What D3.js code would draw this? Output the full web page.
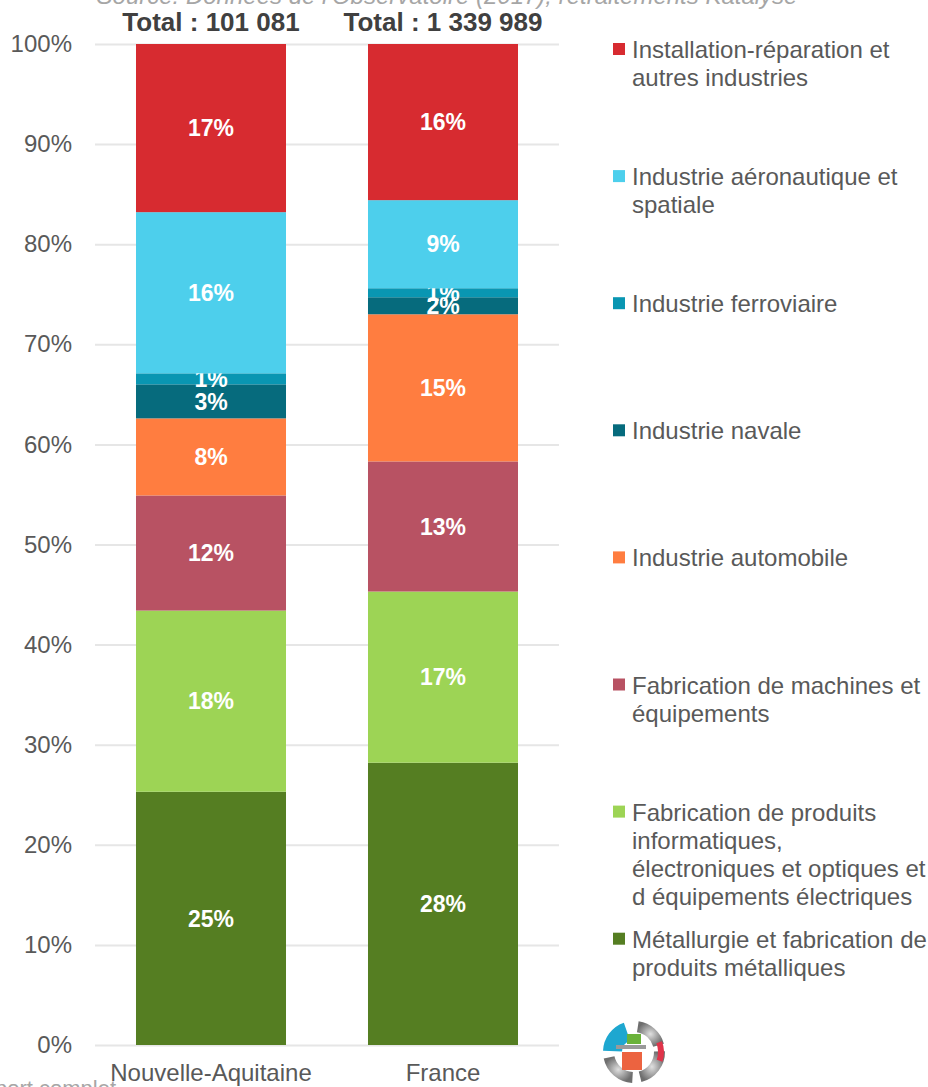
<!DOCTYPE html>
<html>
<head>
<meta charset="utf-8">
<script src="https://cdn.jsdelivr.net/npm/d3@7"></script>
<style>
  body { margin: 0; background: #fff; }
  svg { display: block; font-family: "Liberation Sans", Arial, sans-serif; }
</style>
</head>
<body>
<div id="chart"></div>
<script>
// données (en %), de bas en haut de la pile
const categories = ["Nouvelle-Aquitaine", "France"];
const totals = ["Total : 101 081", "Total : 1 339 989"];
const sectors = [
    "Métallurgie et fabrication de produits métalliques",
    "Fabrication de produits informatiques, électroniques et optiques et d équipements électriques",
    "Fabrication de machines et équipements",
    "Industrie automobile",
    "Industrie navale",
    "Industrie ferroviaire",
    "Industrie aéronautique et spatiale",
    "Installation-réparation et autres industries"
];
const legendLines = [
    ["Métallurgie et fabrication de", "produits métalliques"],
    ["Fabrication de produits", "informatiques,", "électroniques et optiques et", "d équipements électriques"],
    ["Fabrication de machines et", "équipements"],
    ["Industrie automobile"],
    ["Industrie navale"],
    ["Industrie ferroviaire"],
    ["Industrie aéronautique et", "spatiale"],
    ["Installation-réparation et", "autres industries"]
];
const naValues = [25.3, 18.1, 11.5, 7.7, 3.4, 1.1, 16.1, 16.8];
const frValues = [28.2, 17.1, 13.0, 14.7, 1.7, 0.9, 8.8, 15.6];
const colors = ["#557e22", "#9dd455", "#b85263", "#ff7d40", "#066b7d", "#0996b2", "#4dcfec", "#d72b30"];
const yTicks = [0, 10, 20, 30, 40, 50, 60, 70, 80, 90, 100];

const width = 928;
const height = 1087;

const svg = d3.select("#chart")
    .append("svg")
    .attr("width", width)
    .attr("height", height);

const x = d3.scaleBand()
    .domain(categories)
    .range([95, 559])
    .paddingInner(0.3534)
    .paddingOuter(0.1767);

const y = d3.scaleLinear()
    .domain([0, 100])
    .range([1045, 44]);

const color = d3.scaleOrdinal().domain(sectors).range(colors);

// source (coupée en haut)
svg.append("text")
    .attr("x", 447).attr("y", 4)
    .attr("text-anchor", "middle")
    .attr("fill", "#a6a6a6")
    .style("font-size", "24px")
    .style("font-style", "italic")
    .text("Source: Données de l'Observatoire (2017), retraitements Katalyse");

// grille + axe Y
const yAxis = d3.axisLeft(y)
    .tickValues(yTicks)
    .tickSize(-(559 - 95))
    .tickPadding(23)
    .tickFormat(d => d + "%");

svg.append("g")
    .attr("transform", "translate(95,0)")
    .call(yAxis)
    .call(g => g.select(".domain").remove())
    .call(g => g.selectAll("line").attr("stroke", "#e6e6e6").attr("stroke-width", 2))
    .call(g => g.selectAll("text").attr("fill", "#595959").style("font-size", "24px").style("font-family", "Liberation Sans, Arial, sans-serif"));

// pile
const rows = sectors.map((s, i) => ({ sector: s, "Nouvelle-Aquitaine": naValues[i], "France": frValues[i] }));
const byCat = categories.map(c => {
    const o = { cat: c };
    rows.forEach(r => { o[r.sector] = r[c]; });
    return o;
});
const series = d3.stack().keys(sectors)(byCat);

const layer = svg.append("g").selectAll("g")
    .data(series)
    .enter()
    .append("g")
    .attr("fill", d => color(d.key));

layer.selectAll("rect")
    .data(d => d)
    .enter()
    .append("rect")
    .attr("x", d => x(d.data.cat))
    .attr("width", x.bandwidth())
    .attr("y", d => y(d[1]))
    .attr("height", d => y(d[0]) - y(d[1]));

// étiquettes de valeurs
layer.selectAll("text")
    .data(d => d)
    .enter()
    .append("text")
    .attr("x", d => x(d.data.cat) + x.bandwidth() / 2)
    .attr("y", d => (y(d[0]) + y(d[1])) / 2)
    .attr("dy", "0.36em")
    .attr("text-anchor", "middle")
    .attr("fill", "#fff")
    .style("font-size", "23px")
    .style("font-weight", "bold")
    .text(d => Math.round(d[1] - d[0]) + "%");

// totaux
svg.selectAll(".total")
    .data(categories)
    .enter()
    .append("text")
    .attr("class", "total")
    .attr("x", d => x(d) + x.bandwidth() / 2)
    .attr("y", 31)
    .attr("text-anchor", "middle")
    .attr("fill", "#404040")
    .style("font-size", "26px")
    .style("font-weight", "bold")
    .text((d, i) => totals[i]);

// catégories
svg.selectAll(".cat")
    .data(categories)
    .enter()
    .append("text")
    .attr("class", "cat")
    .attr("x", d => x(d) + x.bandwidth() / 2)
    .attr("y", 1081)
    .attr("text-anchor", "middle")
    .attr("fill", "#595959")
    .style("font-size", "24px")
    .text(d => d);

// texte coupé en bas à gauche
svg.append("text")
    .attr("x", 116).attr("y", 1096)
    .attr("text-anchor", "end")
    .attr("fill", "#a6a6a6")
    .style("font-size", "22px")
    .text("Rapport complet");

// légende (ordre inverse)
const legendOrder = d3.range(sectors.length).reverse();
const legend = svg.append("g").selectAll("g")
    .data(legendOrder)
    .enter()
    .append("g")
    .attr("transform", (d, i) => `translate(613,${49 + i * 127.1})`);

legend.append("rect")
    .attr("x", 0).attr("y", -6)
    .attr("width", 12).attr("height", 12)
    .attr("fill", d => colors[d]);

legend.append("text")
    .attr("x", 19)
    .attr("y", 9)
    .attr("fill", "#595959")
    .style("font-size", "24px")
    .selectAll("tspan")
    .data(d => legendLines[d])
    .enter()
    .append("tspan")
    .attr("x", 19)
    .attr("dy", (d, i) => i === 0 ? 0 : 28)
    .text(d => d);

// logo
const logo = svg.append("g").attr("transform", "translate(634,1052)");
const arc = d3.arc();
const gray = logo.append("defs").append("radialGradient").attr("id", "grisLogo");
gray.append("stop").attr("offset", "0%").attr("stop-color", "#e0e0e0");
gray.append("stop").attr("offset", "100%").attr("stop-color", "#6e6e6e");
[[0.15, 1.3], [1.55, 2.9], [3.2, 4.5]].forEach(a => {
    logo.append("path")
        .attr("d", arc({ innerRadius: 20, outerRadius: 31, startAngle: a[0], endAngle: a[1] }))
        .attr("fill", "url(#grisLogo)");
});
logo.append("path")
    .attr("d", arc({ innerRadius: 12, outerRadius: 31, startAngle: 4.75, endAngle: 5.95 }))
    .attr("fill", "#1ea7d0");
logo.append("path")
    .attr("d", arc({ innerRadius: 24, outerRadius: 30, startAngle: 1.2, endAngle: 1.9 }))
    .attr("fill", "#e0344a");
logo.append("rect").attr("x", -7).attr("y", -18).attr("width", 14).attr("height", 10).attr("fill", "#6ab23a");
logo.append("rect").attr("x", -12).attr("y", 0).attr("width", 20).attr("height", 18).attr("fill", "#ec6340");
logo.append("rect").attr("x", -18).attr("y", -7).attr("width", 30).attr("height", 4).attr("fill", "#9a9a9a");
</script>
</body>
</html>
